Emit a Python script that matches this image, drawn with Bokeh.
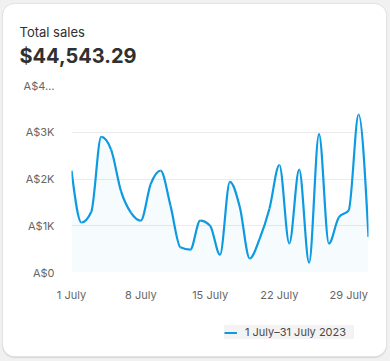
import numpy as np
from bokeh.plotting import figure
from bokeh.layouts import column
from bokeh.models import (Range1d, FixedTicker, Title, Legend, LegendItem)
from bokeh.embed import file_html
from bokeh.resources import INLINE

# ---- data ----
days = list(range(1, 32))
sales = [2180, 1070, 1300, 2900, 2630, 1740, 1280, 1110, 1890, 2180,
         1430, 540, 490, 1110, 1000, 380, 1940, 1400, 300, 720,
         1370, 2300, 620, 2200, 210, 2960, 620, 1180, 1330, 3380, 760]
x_ticks = [1, 8, 15, 22, 29]
x_tick_labels = ["1 July", "8 July", "15 July", "22 July", "29 July"]
y_ticks = [0, 1000, 2000, 3000, 4000]
y_tick_labels = ["A$0", "A$1K", "A$2K", "A$3K", "A$4…"]
title_text = "Total sales"
total_text = "$44,543.29"
legend_text = "1 July–31 July 2023"

LINE = "#0e9ae0"
FONT = "Inter"
W = 383

# monotone-x cubic tangents (same rendering rule as d3.curveMonotoneX)
x = np.array(days, dtype=float)
y = np.array(sales, dtype=float)
n = len(x)
t = np.zeros(n)
for i in range(1, n - 1):
    h0 = x[i] - x[i - 1]
    h1 = x[i + 1] - x[i]
    s0 = (y[i] - y[i - 1]) / h0
    s1 = (y[i + 1] - y[i]) / h1
    pp = (s0 * h1 + s1 * h0) / (h0 + h1)
    t[i] = (np.sign(s0) + np.sign(s1)) * min(abs(s0), abs(s1), 0.5 * abs(pp))
t[0] = (3 * (y[1] - y[0]) / (x[1] - x[0]) - t[1]) / 2
t[-1] = (3 * (y[-1] - y[-2]) / (x[-1] - x[-2]) - t[-2]) / 2
dx = (x[1:] - x[:-1]) / 3.0
bez = dict(x0=x[:-1], y0=y[:-1], x1=x[1:], y1=y[1:],
           cx0=x[:-1] + dx, cy0=y[:-1] + dx * t[:-1],
           cx1=x[1:] - dx, cy1=y[1:] - dx * t[1:])

# ---- chart with header ----
p = figure(width=W, height=308, frame_width=297, frame_height=187,
           output_backend="svg", toolbar_location=None, title=None,
           x_range=Range1d(1, 31), y_range=Range1d(0, 4000),
           min_border_left=68, min_border_right=18, min_border_top=81,
           min_border_bottom=40)
p.outline_line_color = None
p.background_fill_color = "white"
p.border_fill_color = "white"

p.varea(x=days, y1=0, y2=sales, fill_color=LINE, fill_alpha=0.035)
p.bezier(**bez, line_color=LINE, line_width=2.2)

p.xaxis.ticker = FixedTicker(ticks=x_ticks)
p.xaxis.major_label_overrides = dict(zip(x_ticks, x_tick_labels))
p.yaxis.ticker = FixedTicker(ticks=y_ticks)
p.yaxis.major_label_overrides = dict(zip(y_ticks, y_tick_labels))
for ax in (p.xaxis, p.yaxis):
    ax.axis_line_color = None
    ax.major_tick_line_color = None
    ax.minor_tick_line_color = None
    ax.major_label_text_font = FONT
    ax.major_label_text_font_size = "11px"
    ax.major_label_text_color = "#666666"
p.xaxis.major_label_standoff = 9
p.yaxis.major_label_standoff = 11
p.xgrid.grid_line_color = None
p.ygrid.grid_line_color = "#ebebeb"
p.ygrid.ticker = FixedTicker(ticks=y_ticks)

# header titles, stacked upwards from the frame (first = closest)
p.add_layout(Title(text=".", text_font_size="1px", text_color="white", standoff=14),
             "above")  # invisible spacer between header and plot area
p.add_layout(Title(text=total_text, align="left", offset=-52,
                   text_font=FONT, text_font_size="20px", text_font_style="bold",
                   text_color="#303030", standoff=2), "above")
p.add_layout(Title(text=title_text, align="left", offset=-52,
                   text_font=FONT, text_font_size="13px", text_font_style="normal",
                   text_color="#303030", standoff=1), "above")

# ---- legend strip ----
p2 = figure(width=W, height=44, output_backend="svg", toolbar_location=None,
            title=None, x_axis_location=None, y_axis_location=None,
            min_border=0, min_border_left=0, min_border_right=0,
            min_border_top=0, min_border_bottom=0)
p2.outline_line_color = None
p2.background_fill_color = "white"
p2.border_fill_color = "white"
p2.grid.visible = False
proxy = p2.bezier(**bez, line_color=LINE, line_width=2.2, visible=False)
legend = Legend(items=[LegendItem(label=legend_text, renderers=[proxy])],
                location=(153, 17), orientation="horizontal",
                background_fill_color="#f3f3f3", background_fill_alpha=1,
                border_line_color=None, padding=6, margin=0,
                glyph_width=13, glyph_height=11, label_height=11, label_width=109,
                label_standoff=8, inactive_fill_alpha=0,
                label_text_font=FONT, label_text_font_size="11px",
                label_text_color="#4a4a4a")
p2.add_layout(legend, "center")

card = column(p, p2, spacing=0)
card.styles = {"margin-left": "3px", "margin-top": "4px", "border-radius": "12px",
               "overflow": "hidden", "background-color": "white",
               "box-shadow": "0 0 0 1px #e3e3e3, 0 1px 1px 1px #d6d6d6, 0 0 0 14px #f1f1f1"}

open("out.html", "w").write(file_html(card, INLINE))
